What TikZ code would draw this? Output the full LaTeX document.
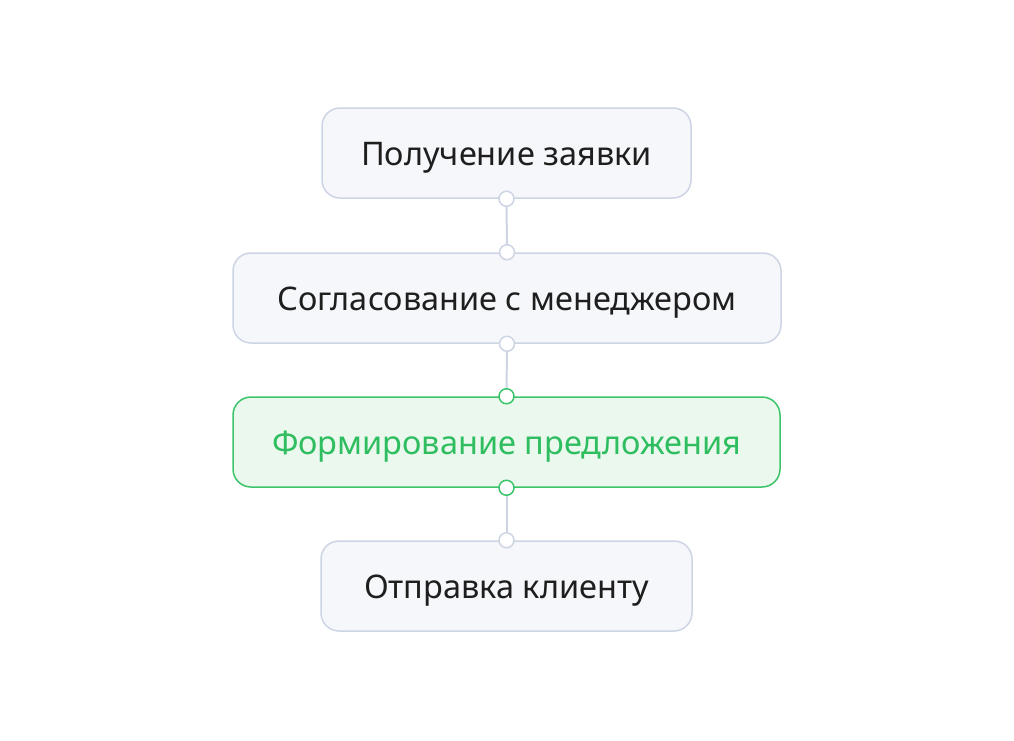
\documentclass[tikz,border=0pt]{standalone}
\usepackage{fontspec}
\setmainfont{Noto Sans}
\definecolor{boxline}{HTML}{CDD5E4}
\definecolor{boxfill}{HTML}{F6F7FA}
\definecolor{grline}{HTML}{3CC46A}
\definecolor{grfill}{HTML}{EAF8EE}
\definecolor{grtext}{HTML}{2EBD5F}
\definecolor{txt}{HTML}{1E1E1E}
\tikzset{
  stepbox/.style={draw=boxline, fill=boxfill, line width=1.5pt, rounded corners=18pt,
    minimum height=90pt, inner sep=0pt, text height=24pt, text depth=0pt,
    text=txt, font=\fontsize{32.5}{36}\selectfont},
  activebox/.style={stepbox, draw=grline, fill=grfill, text=grtext},
  link/.style={draw=boxline, line width=2pt},
  port/.style={circle, draw=boxline, fill=white, line width=1.5pt, minimum size=15pt, inner sep=0pt},
  gport/.style={port, draw=grline},
}
\begin{document}
\begin{tikzpicture}[x=1pt,y=-1pt]
\useasboundingbox (0,0) rectangle (1014,740);
\node[stepbox, minimum width=369pt] (b1) at (506.5,153) {Получение заявки};
\node[stepbox, minimum width=548pt] (b2) at (507,298) {Согласование с менеджером};
\node[activebox, minimum width=547pt] (b3) at (506.5,442) {Формирование предложения};
\node[stepbox, minimum width=371pt] (b4) at (506.5,586) {Отправка клиенту};
\draw[link] (b1.south) -- (b2.north);
\draw[link] (b2.south) -- (b3.north);
\draw[link] (b3.south) -- (b4.north);
\node[port] (p1) at (b1.south) {};
\node[port] (p2) at (b2.north) {};
\node[port] (p3) at (b2.south) {};
\node[gport] (p4) at (b3.north) {};
\node[gport] (p5) at (b3.south) {};
\node[port] (p6) at (b4.north) {};
\end{tikzpicture}
\end{document}
